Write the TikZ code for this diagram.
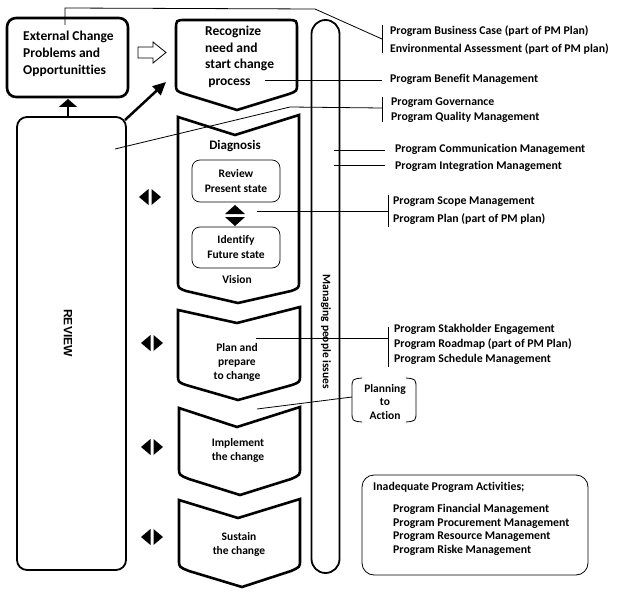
\documentclass[tikz,border=0pt]{standalone}
\usepackage{fontspec}
\setmainfont{Carlito}[Ligatures=NoCommon]
\newfontfamily\arialf{Liberation Sans}
\usetikzlibrary{arrows.meta}
\begin{document}
\begin{tikzpicture}[x=1pt,y=-1pt,
  lbl/.style={font=\fontsize{11.8}{15}\selectfont\bfseries, inner sep=0pt, anchor=west, text height=8pt, text depth=2.5pt},
  ctext/.style={font=\fontsize{11.5}{14}\selectfont\bfseries, inner sep=0pt, align=center},
  big/.style={font=\fontsize{13.5}{16.5}\selectfont\bfseries, inner sep=0pt, align=left},
  chev/.style={draw, line width=2.6pt, line join=miter},
  thick box/.style={draw, line width=2.6pt},
  conn/.style={draw, line width=0.8pt},
  brk/.style={draw, line width=0.8pt},
  smallbox/.style={draw, line width=0.7pt, rounded corners=8, minimum width=88, minimum height=42, inner sep=0pt, align=center, font=\fontsize{11.5}{15}\selectfont\bfseries}
]
\useasboundingbox (0,0) rectangle (621,599);

% External change box
\node[thick box, rounded corners=9, minimum width=121, minimum height=79, inner sep=0pt] (ext) at (67.5,57.5) {};
\node[big, anchor=west] (exttxt) at (23,54) {External Change\\[0.5pt]Problems and\\[0.5pt]Opportunitties};

% hollow arrow
\draw[line width=0.8pt, fill=white] (138,47) -- (153,47) -- (153,42) -- (166,52.5) -- (153,63) -- (153,58) -- (138,58) -- cycle;

% Recognize box
\draw[thick box] (237,110) -- (185,94) .. controls (176,91) .. (176,84) -- (176,30) .. controls (176,20) .. (186,20) -- (287,20) .. controls (297,20) .. (297,30) -- (297,84) .. controls (297,91) .. (289,94) -- cycle;
\node[big, anchor=west] (recog) at (205,57) {Recognize\\need and\\start change\\\ process};

% Chevrons
\draw[chev] (178,117) -- (235,135) -- (299,115) -- (299,281) .. controls (299,288) .. (291,291) -- (238,303) -- (186,291) .. controls (178,288) .. (178,281) -- cycle;
\draw[chev] (178,310) -- (237,323) -- (300,307) -- (300,375) .. controls (300,382) .. (292,385) -- (238,400) -- (186,385) .. controls (178,382) .. (178,375) -- cycle;
\draw[chev] (179,408) -- (237,427) -- (300,407) -- (300,468) .. controls (300,475) .. (291,479) -- (240,495) -- (189,479) .. controls (179,475) .. (179,468) -- cycle;
\draw[chev] (179,500) -- (238,518) -- (300,499) -- (300,560) .. controls (300,567) .. (291,571) -- (242,587) -- (189,571) .. controls (179,567) .. (179,560) -- cycle;

\node[font=\fontsize{13}{15}\selectfont\bfseries, inner sep=0pt] (diag) at (235,146) {Diagnosis};
\node[smallbox] (present) at (236,181) {Review\\Present state};
\node[smallbox, minimum height=41] (future) at (236,247.5) {Identify\\Future state};
\node[ctext] (vision) at (237,280) {Vision};
\node[ctext] (plan) at (237,362) {Plan and\\prepare\\to change};
\node[ctext] (impl) at (238,450) {Implement\\the change};
\node[ctext] (sust) at (239,544) {Sustain\\the change};

% vertical double triangle
\fill (235,205) -- (245,214) -- (225,214) -- cycle;
\fill (225,217) -- (245,217) -- (235,226) -- cycle;

% left-right diamonds
\foreach \yy/\xx in {197/150, 343/152, 447/152, 537/152}{
  \fill (\xx-11,\yy) -- (\xx-1.5,\yy-8) -- (\xx-1.5,\yy+8) -- cycle;
  \fill (\xx+11,\yy) -- (\xx+1.5,\yy-8) -- (\xx+1.5,\yy+8) -- cycle;
}

% Review box
\node[draw, line width=1.8pt, rounded corners=10, minimum width=109, minimum height=453, inner sep=0pt] (review) at (71.5,343.5) {};
\node[font=\arialf\fontsize{12}{14}\selectfont\bfseries, rotate=-90, inner sep=0pt] (revtxt) at (68,333) {REVIEW};

% arrows
\coordinate (upA) at (68,117);
\coordinate (upB) at (68,99);
\draw[line width=2pt, -{Triangle[length=8pt,width=18pt]}] (upA) -- (upB);
\coordinate (dgA) at (125,120);
\coordinate (dgB) at (166,82);
\draw[line width=2.5pt, -{Triangle[length=13pt,width=12pt]}] (dgA) -- (dgB);

% Managing people bar
\node[draw, line width=1.8pt, rounded corners=14, minimum width=28, minimum height=553, inner sep=0pt] (mgr) at (325.5,296.5) {};
\node[font=\fontsize{11.5}{14}\selectfont\bfseries, rotate=-90, inner sep=0pt] (mgrtxt) at (326,332) {Managing people issues};

% Planning to Action
\draw[line width=0.8pt] (362,378) .. controls (352,379) .. (352,389) -- (352,411) .. controls (352,421) .. (362,422);
\draw[line width=0.8pt] (406,378) .. controls (416,379) .. (416,389) -- (416,411) .. controls (416,421) .. (406,422);
\node[ctext, font=\fontsize{11.5}{13.5}\selectfont\bfseries] (pta) at (385,402) {Planning\\to\\Action};

% Inadequate box
\node[draw, line width=0.8pt, rounded corners=12, minimum width=226, minimum height=100, inner sep=0pt] (inad) at (475,525) {};
\node[lbl] (i0) at (373,488) {Inadequate Program Activities;};
\node[lbl] (i1) at (393,510) {Program Financial Management};
\node[lbl] (i2) at (393,523.5) {Program Procurement Management};
\node[lbl] (i3) at (393,537) {Program Resource Management};
\node[lbl] (i4) at (393,551) {Program Riske Management};

% Right labels
\node[lbl] (t1) at (390,32) {Program Business Case (part of PM Plan)};
\node[lbl] (t2) at (390,50) {Environmental Assessment (part of PM plan)};
\node[lbl] (t3) at (390,80) {Program Benefit Management};
\node[lbl] (t4) at (391,103) {Program Governance};
\node[lbl] (t5) at (391,118) {Program Quality Management};
\node[lbl] (t6) at (395,150) {Program Communication Management};
\node[lbl] (t7) at (395,167) {Program Integration Management};
\node[lbl] (t8) at (393,202) {Program Scope Management};
\node[lbl] (t9) at (393,220) {Program Plan (part of PM plan)};
\node[lbl] (t10) at (394,330) {Program Stakholder Engagement};
\node[lbl] (t11) at (394,345) {Program Roadmap (part of PM Plan)};
\node[lbl] (t12) at (394,360) {Program Schedule Management};

% connectors and brackets
\coordinate (b1) at (382,39);
\draw[conn] (65,25) -- (65,8) -- (315,9) -- (b1);
\draw[brk] (382,25) -- (382,53);
\coordinate (b2) at (382,80);
\draw[conn] (265,80) -- (b2);
\coordinate (b3) at (382,108);
\draw[conn] (115,149) -- (290,107) -- (b3);
\draw[brk] (382,97) -- (382,122);
\draw[conn] (334,150) -- (385,150);
\draw[conn] (334,165) -- (385,165);
\coordinate (b4) at (388,211);
\draw[conn] (257,211) -- (b4);
\draw[brk] (388,195) -- (388,227);
\coordinate (b5) at (388,338);
\draw[conn] (256,338) -- (b5);
\draw[brk] (388,327) -- (388,367);
\draw[conn] (352,397) -- (257,409);
\end{tikzpicture}
\end{document}
